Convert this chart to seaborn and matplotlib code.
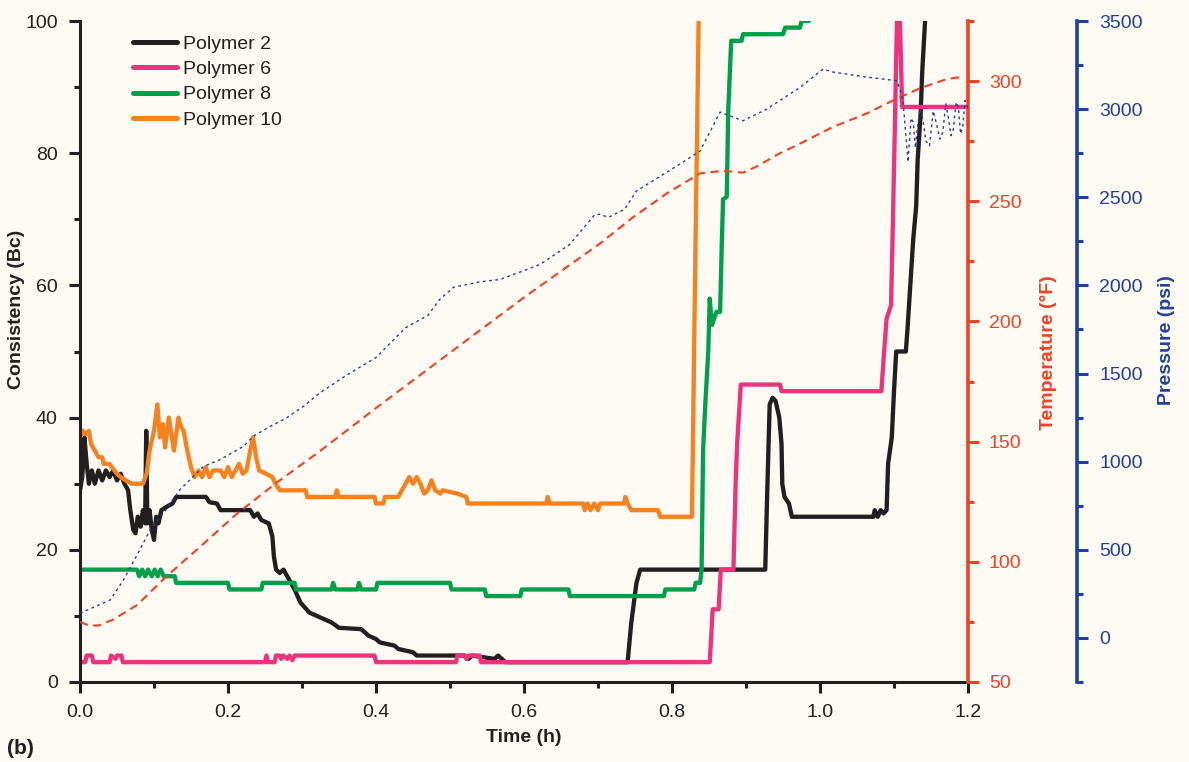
import matplotlib
matplotlib.use("Agg")
import matplotlib.pyplot as plt
from matplotlib.ticker import MultipleLocator, FixedLocator
import seaborn as sns
import numpy as np

# ---- consistency curves (time in h, consistency in Bc) ----
p2_t = [0.000, 0.003, 0.006, 0.009, 0.012, 0.016, 0.020, 0.025, 0.030, 0.035, 0.040, 0.045,
        0.050, 0.055, 0.060, 0.065, 0.068, 0.072, 0.075, 0.078, 0.082, 0.085, 0.088, 0.0895,
        0.091, 0.094, 0.097, 0.100, 0.103, 0.106, 0.110, 0.117, 0.125, 0.130, 0.170, 0.175,
        0.185, 0.190, 0.230, 0.235, 0.240, 0.245, 0.255, 0.260, 0.262, 0.265, 0.270, 0.275,
        0.280, 0.285, 0.290, 0.298, 0.310, 0.320, 0.330, 0.340, 0.350, 0.380, 0.390, 0.400,
        0.405, 0.425, 0.430, 0.450, 0.455, 0.520, 0.525, 0.530, 0.560, 0.565, 0.570, 0.575,
        0.740, 0.745, 0.752, 0.757, 0.926, 0.929, 0.932, 0.936, 0.940, 0.945, 0.948, 0.949,
        0.952, 0.958, 0.962, 1.072, 1.074, 1.078, 1.082, 1.086, 1.090, 1.092, 1.097, 1.100,
        1.103, 1.116, 1.118, 1.122, 1.126, 1.130, 1.132, 1.136, 1.138, 1.142, 1.150]
p2_c = [29, 31, 37, 33, 30, 32, 30, 32, 30.5, 32, 31, 32,
        30.5, 31.5, 30, 29, 26, 23, 22.5, 25, 23.5, 26, 24, 38,
        24, 26, 23, 21.5, 25, 24, 26, 26.5, 27, 28, 28, 27.2,
        27, 26, 26, 25, 25.5, 24.5, 24, 22, 19, 17, 16.5, 17,
        16, 15, 14, 12, 10.5, 10, 9.5, 9, 8.2, 8, 7, 6.5,
        6, 5.5, 5, 4.5, 4, 4, 3.5, 4, 3.5, 4, 3.5, 3,
        3, 9, 15, 17, 17, 30, 42, 43, 42.5, 40, 36, 30,
        28, 27, 25, 25, 26, 25, 26, 25.5, 26, 33, 37, 44,
        50, 50, 53, 60, 67, 72, 79, 86, 92, 100, 110]

p6_t = [0.000, 0.007, 0.009, 0.016, 0.018, 0.040, 0.042, 0.048, 0.050, 0.056, 0.058, 0.250,
        0.252, 0.254, 0.263, 0.265, 0.270, 0.272, 0.275, 0.280, 0.283, 0.287, 0.290, 0.398,
        0.400, 0.508, 0.510, 0.520, 0.522, 0.525, 0.540, 0.542, 0.851, 0.855, 0.863, 0.866,
        0.883, 0.886, 0.888, 0.893, 0.946, 0.948, 1.083, 1.086, 1.090, 1.096, 1.098, 1.101,
        1.104, 1.106, 1.108, 1.111, 1.200]
p6_c = [3, 3, 4, 4, 3, 3, 4, 3.5, 4, 4, 3, 3,
        4, 3, 3, 4, 4, 3.5, 4, 3.5, 4, 3.3, 4, 4,
        3, 3, 4, 4, 3.5, 4, 4, 3, 3, 11, 11, 17,
        17, 30, 36, 45, 45, 44, 44, 49, 55, 57, 67, 83,
        100, 103, 100, 87, 87]

p8_t = [0.000, 0.077, 0.080, 0.084, 0.088, 0.092, 0.097, 0.101, 0.105, 0.109, 0.113, 0.117,
        0.128, 0.130, 0.200, 0.202, 0.245, 0.247, 0.290, 0.292, 0.340, 0.342, 0.345, 0.375,
        0.377, 0.380, 0.400, 0.402, 0.500, 0.502, 0.547, 0.549, 0.595, 0.597, 0.660, 0.662,
        0.789, 0.791, 0.830, 0.832, 0.838, 0.840, 0.842, 0.845, 0.849, 0.851, 0.854, 0.860,
        0.865, 0.867, 0.869, 0.874, 0.876, 0.880, 0.894, 0.896, 0.950, 0.953, 0.973, 0.975,
        0.985]
p8_c = [17, 17, 16, 17, 16, 17, 16, 17, 16, 17, 16, 16,
        16, 15, 15, 14, 14, 15, 15, 14, 14, 15, 14, 14,
        15, 14, 14, 15, 15, 14, 14, 13, 13, 14, 14, 13,
        13, 14, 14, 15, 15, 17, 35, 42, 50, 58, 54, 56,
        56, 65, 73, 73.4, 86.5, 97, 97, 98, 98, 99, 99, 100,
        100]

p10_t = [0.000, 0.004, 0.008, 0.012, 0.015, 0.020, 0.025, 0.030, 0.032, 0.040, 0.043, 0.050,
         0.055, 0.062, 0.070, 0.085, 0.090, 0.094, 0.100, 0.1045, 0.108, 0.112, 0.115, 0.120,
         0.127, 0.133, 0.137, 0.140, 0.145, 0.150, 0.155, 0.160, 0.165, 0.170, 0.175, 0.180,
         0.190, 0.195, 0.200, 0.205, 0.210, 0.215, 0.220, 0.225, 0.230, 0.234, 0.238, 0.242,
         0.250, 0.260, 0.264, 0.270, 0.305, 0.307, 0.345, 0.347, 0.350, 0.398, 0.400, 0.410,
         0.412, 0.430, 0.435, 0.440, 0.445, 0.450, 0.455, 0.460, 0.465, 0.470, 0.475, 0.480,
         0.487, 0.490, 0.510, 0.522, 0.524, 0.630, 0.632, 0.635, 0.680, 0.682, 0.686, 0.690,
         0.695, 0.700, 0.703, 0.735, 0.737, 0.740, 0.745, 0.781, 0.784, 0.827, 0.831, 0.836,
         0.838]
p10_c = [37, 38, 37.5, 38, 36, 35, 34, 34, 33, 33, 32.5, 31.5,
         31, 30.5, 30, 30, 31.5, 35, 38, 42, 37, 39, 35.5, 40,
         35, 40, 38.5, 38, 35, 32.5, 31, 32, 31, 32.5, 31, 32,
         32, 31, 32.5, 31, 32, 33, 31.5, 32, 35, 37, 34, 32,
         31.6, 31, 30, 29, 29, 28, 28, 29, 28, 28, 27, 27,
         28, 28, 29, 30, 31, 30, 31, 30, 28.5, 29, 30.5, 29,
         28.5, 29, 28.5, 28, 27, 27, 28, 27, 27, 26, 27, 26,
         27, 26, 27, 27, 28, 27, 26, 26, 25, 25, 60, 100,
         110]

# ---- test conditions ----
temp_t = [0.000, 0.012, 0.025, 0.045, 0.077, 0.117, 0.165, 0.212, 0.266, 0.324, 0.400, 0.500,
          0.600, 0.703, 0.748, 0.793, 0.838, 0.869, 0.896, 0.914, 0.946, 0.973, 1.018, 1.063,
          1.099, 1.135, 1.171, 1.193]
temp_f = [75, 73.5, 73.5, 76, 82, 94, 107, 120, 133, 146, 164, 187,
          210, 232.5, 243.5, 253.3, 261.6, 262.7, 261.9, 264.4, 270, 274, 281, 286.5,
          292, 297, 300.8, 301.8]

pres_t = [0.000, 0.041, 0.059, 0.077, 0.095, 0.113, 0.135, 0.167, 0.189, 0.221, 0.234, 0.257,
          0.279, 0.302, 0.324, 0.360, 0.400, 0.440, 0.470, 0.486, 0.505, 0.540, 0.568, 0.622,
          0.662, 0.696, 0.703, 0.714, 0.736, 0.752, 0.774, 0.815, 0.838, 0.865, 0.896, 0.928,
          0.973, 1.004, 1.018, 1.063, 1.104, 1.112, 1.119, 1.123, 1.126, 1.129, 1.131, 1.135,
          1.139, 1.143, 1.148, 1.153, 1.158, 1.162, 1.166, 1.170, 1.173, 1.177, 1.180, 1.184,
          1.187, 1.190, 1.193, 1.196, 1.200]
pres_psi = [140, 216, 330, 470, 614, 709, 841, 973, 1011, 1087, 1144, 1200,
            1248, 1314, 1390, 1490, 1591, 1760, 1830, 1920, 1990, 2020, 2034, 2119,
            2233, 2403, 2403, 2386, 2432, 2536, 2593, 2700, 2763, 2983, 2934, 3000,
            3123, 3227, 3210, 3182, 3161, 3057, 2700, 2950, 2926, 2780, 2870, 3000,
            2943, 2820, 2792, 2990, 2905, 2830, 2870, 3030, 2962, 2850, 2880, 3040,
            3010, 2860, 2900, 3050, 3000]

series_names = ["Polymer 2", "Polymer 6", "Polymer 8", "Polymer 10"]
x_ticks = [0.0, 0.2, 0.4, 0.6, 0.8, 1.0, 1.2]
x_tick_labels = ["0.0", "0.2", "0.4", "0.6", "0.8", "1.0", "1.2"]

# ---- style ----
BG = "#fdf9f3"
INK = "#231f20"
PINK = "#ec347c"
GREEN = "#00a04b"
ORANGE = "#f58220"
RED = "#ef4123"
BLUE = "#21409a"

sns.set_theme(style="ticks")
plt.rcParams["font.family"] = ["Liberation Sans", "DejaVu Sans"]

W, H = 1189, 762
fig = plt.figure(figsize=(W / 100, H / 100), dpi=100, facecolor=BG)
ax = fig.add_axes([80 / W, 80 / H, 888 / W, 661 / H])
ax.set_facecolor(BG)

for (t, c, col, name) in [(p2_t, p2_c, INK, series_names[0]),
                          (p6_t, p6_c, PINK, series_names[1]),
                          (p8_t, p8_c, GREEN, series_names[2]),
                          (p10_t, p10_c, ORANGE, series_names[3])]:
    sns.lineplot(x=t, y=c, ax=ax, color=col, linewidth=3.1, estimator=None,
                 sort=False, label=name, legend=False)

ax.set_xlim(0, 1.2)
ax.set_ylim(0, 100)
ax.xaxis.set_major_locator(FixedLocator(x_ticks))
ax.set_xticklabels(x_tick_labels)
ax.xaxis.set_minor_locator(MultipleLocator(0.1))
ax.yaxis.set_major_locator(MultipleLocator(20))
ax.yaxis.set_minor_locator(MultipleLocator(10))
for s in ["top", "right"]:
    ax.spines[s].set_visible(False)
for s in ["left", "bottom"]:
    ax.spines[s].set_color(INK)
    ax.spines[s].set_linewidth(2.2)
ax.tick_params(which="major", length=8, width=2.2, color=INK, labelcolor=INK,
               labelsize=14, pad=8, direction="out")
ax.tick_params(which="minor", length=4, width=2.2, color=INK, direction="out")

ax.set_xlabel("Time (h)", fontsize=14, fontweight="bold", color=INK)
ax.xaxis.set_label_coords(0.5, -0.071)
ax.set_ylabel("Consistency (Bc)", fontsize=14, fontweight="bold", color=INK)
ax.yaxis.set_label_coords(-0.062, 0.563)

leg = ax.legend(loc="upper left", bbox_to_anchor=(133 / W, 1 - 35 / H),
                bbox_transform=fig.transFigure, frameon=False, fontsize=14,
                handlelength=2.25, handletextpad=0.3, labelspacing=0.4,
                borderpad=0, borderaxespad=0)
for ln in leg.get_lines():
    ln.set_linewidth(3.6)
for tx in leg.get_texts():
    tx.set_color(INK)

# temperature axis
ax_t = ax.twinx()
sns.lineplot(x=temp_t, y=temp_f, ax=ax_t, color=RED, linewidth=1.5, estimator=None,
             sort=False, linestyle=(0, (4, 2.6)))
ax_t.set_ylim(50, 325)
ax_t.yaxis.set_major_locator(MultipleLocator(50))
ax_t.yaxis.set_minor_locator(MultipleLocator(25))
for s in ["top", "left", "bottom"]:
    ax_t.spines[s].set_visible(False)
ax_t.spines["right"].set_color(RED)
ax_t.spines["right"].set_linewidth(2.6)
ax_t.tick_params(which="major", length=8, width=2.2, color=RED, labelcolor=RED,
                 labelsize=14, pad=7, direction="out")
ax_t.tick_params(which="minor", length=4, width=2.2, color=RED, direction="out")
ax_t.set_ylabel("Temperature (\u00b0F)", fontsize=14, fontweight="bold", color=RED)
ax_t.yaxis.set_label_coords(1.081, 0.499)

# pressure axis
ax_p = ax.twinx()
sns.lineplot(x=pres_t, y=pres_psi, ax=ax_p, color=BLUE, linewidth=1.0, estimator=None,
             sort=False, linestyle=(0, (2, 2.5)))
ax_p.set_ylim(-250, 3500)
ax_p.yaxis.set_major_locator(MultipleLocator(500))
ax_p.yaxis.set_minor_locator(FixedLocator(np.arange(-250, 3500, 500)))
for s in ["top", "left", "bottom"]:
    ax_p.spines[s].set_visible(False)
ax_p.spines["right"].set_position(("axes", 1 + 109 / 888))
ax_p.spines["right"].set_color(BLUE)
ax_p.spines["right"].set_linewidth(2.6)
ax_p.tick_params(which="major", length=8, width=2.2, color=BLUE, labelcolor=BLUE,
                 labelsize=14, pad=8, direction="out")
ax_p.tick_params(which="minor", length=4, width=2.2, color=BLUE, direction="out")
ax_p.set_ylabel("Pressure (psi)", fontsize=14, fontweight="bold", color=BLUE)
ax_p.yaxis.set_label_coords(1.214, 0.517)

fig.text(7 / W, 1 - 748 / H, "(b)", fontsize=15, fontweight="bold", color=INK,
         ha="left", va="center")

fig.savefig("out.png", dpi=100, facecolor=BG)
